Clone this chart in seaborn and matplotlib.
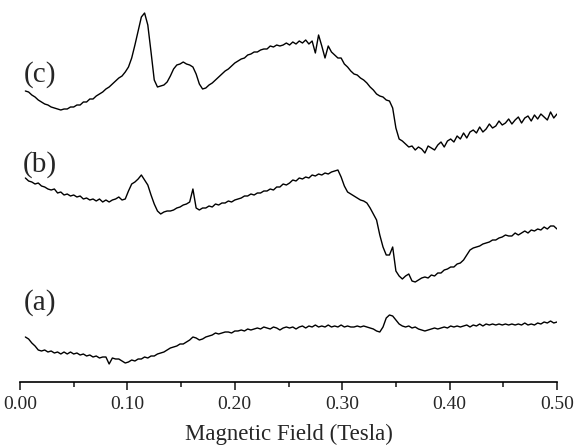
import matplotlib
matplotlib.use("Agg")
import matplotlib.pyplot as plt
from matplotlib.ticker import MultipleLocator, FormatStrFormatter
import seaborn as sns

# Magnetic field sweep (Tesla)
field = [
    0.005, 0.008, 0.011, 0.014, 0.017, 0.020, 0.023, 0.026, 0.029, 0.032,
    0.035, 0.038, 0.041, 0.044, 0.047, 0.050, 0.053, 0.056, 0.059, 0.062,
    0.065, 0.068, 0.071, 0.074, 0.077, 0.080, 0.083, 0.086, 0.089, 0.092,
    0.095, 0.098, 0.101, 0.104, 0.107, 0.110, 0.113, 0.116, 0.119, 0.122,
    0.125, 0.128, 0.131, 0.134, 0.137, 0.140, 0.143, 0.146, 0.149, 0.152,
    0.155, 0.158, 0.161, 0.164, 0.167, 0.170, 0.173, 0.176, 0.179, 0.182,
    0.185, 0.188, 0.191, 0.194, 0.197, 0.200, 0.203, 0.206, 0.209, 0.212,
    0.215, 0.218, 0.221, 0.224, 0.227, 0.230, 0.233, 0.236, 0.239, 0.242,
    0.245, 0.248, 0.251, 0.254, 0.257, 0.260, 0.263, 0.266, 0.269, 0.272,
    0.275, 0.278, 0.281, 0.284, 0.287, 0.290, 0.293, 0.296, 0.299, 0.302,
    0.305, 0.308, 0.311, 0.314, 0.317, 0.320, 0.323, 0.326, 0.329, 0.332,
    0.335, 0.338, 0.341, 0.344, 0.347, 0.350, 0.353, 0.356, 0.359, 0.362,
    0.365, 0.368, 0.371, 0.374, 0.377, 0.380, 0.383, 0.386, 0.389, 0.392,
    0.395, 0.398, 0.401, 0.404, 0.407, 0.410, 0.413, 0.416, 0.419, 0.422,
    0.425, 0.428, 0.431, 0.434, 0.437, 0.440, 0.443, 0.446, 0.449, 0.452,
    0.455, 0.458, 0.461, 0.464, 0.467, 0.470, 0.473, 0.476, 0.479, 0.482,
    0.485, 0.488, 0.491, 0.494, 0.497, 0.500,
]

# EPR signal (arbitrary units, traces offset vertically)
signal_c = [
    291, 290, 287, 285, 282, 280, 278, 277, 275, 274,
    273, 272, 273, 273, 275, 275, 277, 277, 280, 280,
    283, 283, 286, 288, 290, 293, 295, 298, 301, 304,
    306, 310, 315, 324, 337, 351, 365, 369, 357, 330,
    302, 295, 296, 297, 300, 306, 313, 317, 318, 320,
    318, 317, 315, 308, 298, 293, 294, 297, 299, 302,
    305, 308, 311, 313, 316, 319, 321, 323, 324, 327,
    328, 330, 330, 332, 333, 333, 336, 335, 337, 336,
    337, 339, 337, 340, 338, 341, 339, 342, 338, 341,
    329, 347, 336, 324, 336, 330, 327, 324, 324, 318,
    315, 311, 308, 307, 304, 302, 299, 295, 292, 288,
    286, 285, 282, 281, 274, 254, 243, 241, 238, 235,
    236, 232, 235, 233, 229, 236, 234, 232, 237, 240,
    235, 241, 243, 240, 246, 243, 249, 244, 250, 252,
    249, 255, 250, 253, 258, 254, 256, 261, 257, 259,
    263, 258, 262, 265, 259, 264, 266, 261, 267, 263,
    268, 265, 262, 270, 264, 268,
]

signal_b = [
    204, 201, 200, 198, 199, 196, 195, 193, 192, 193,
    189, 190, 187, 188, 186, 187, 185, 186, 183, 184,
    182, 183, 181, 183, 180, 182, 180, 182, 183, 185,
    182, 183, 191, 198, 200, 203, 207, 202, 197, 187,
    178, 171, 168, 170, 171, 171, 172, 174, 175, 177,
    178, 180, 193, 174, 172, 174, 174, 176, 175, 178,
    177, 179, 179, 181, 180, 182, 183, 184, 186, 186,
    188, 187, 189, 189, 191, 191, 193, 192, 195, 195,
    198, 197, 199, 202, 201, 204, 203, 205, 204, 207,
    206, 208, 207, 209, 208, 210, 211, 212, 205, 196,
    190, 188, 186, 184, 182, 181, 179, 174, 168, 162,
    147, 135, 127, 127, 135, 111, 106, 103, 106, 108,
    101, 100, 102, 104, 105, 104, 107, 106, 109, 109,
    112, 113, 115, 115, 118, 119, 122, 127, 132, 134,
    135, 136, 138, 139, 140, 142, 142, 144, 145, 147,
    146, 146, 149, 147, 149, 151, 149, 152, 151, 153,
    152, 155, 153, 156, 156, 153,
]

signal_a = [
    45, 43, 39, 36, 32, 31, 32, 30, 31, 29,
    30, 28, 30, 28, 30, 28, 29, 27, 28, 26,
    27, 25, 26, 24, 25, 25, 18, 24, 23, 23,
    21, 19, 20, 22, 21, 23, 23, 25, 24, 26,
    26, 28, 29, 30, 32, 34, 35, 36, 38, 38,
    40, 42, 45, 44, 42, 43, 45, 46, 47, 49,
    48, 49, 50, 50, 49, 51, 51, 52, 51, 53,
    52, 53, 54, 53, 55, 54, 53, 55, 54, 52,
    54, 55, 54, 55, 53, 55, 56, 54, 56, 55,
    57, 55, 56, 55, 57, 55, 56, 55, 57, 55,
    56, 55, 55, 56, 55, 56, 55, 54, 53, 51,
    50, 55, 64, 67, 66, 62, 58, 56, 55, 56,
    54, 55, 53, 52, 51, 52, 53, 54, 53, 54,
    55, 54, 56, 55, 56, 55, 56, 57, 55, 57,
    56, 58, 56, 58, 57, 58, 57, 58, 57, 58,
    57, 58, 57, 58, 57, 59, 57, 58, 57, 59,
    58, 60, 59, 61, 59, 60,
]

trace_labels = ["(a)", "(b)", "(c)"]
label_levels = [79, 217, 307]

sns.set_style("white")
plt.rcParams["font.family"] = ["Liberation Serif", "DejaVu Serif"]

fig = plt.figure(figsize=(5.79, 4.48), dpi=100)
ax = fig.add_axes([20 / 579, 1 - 382 / 448, 537 / 579, 382 / 448])

for sig in [signal_a, signal_b, signal_c]:
    sns.lineplot(x=field, y=sig, color="black", linewidth=1.0,
                 estimator=None, sort=False, ax=ax)

for lab, lev in zip(trace_labels, label_levels):
    ax.text(0.0186, lev, lab, ha="center", va="center", fontsize=21)

ax.set_xlim(0, 0.5)
ax.set_ylim(0, 382)
ax.xaxis.set_major_locator(MultipleLocator(0.1))
ax.xaxis.set_minor_locator(MultipleLocator(0.05))
ax.xaxis.set_major_formatter(FormatStrFormatter("%.2f"))
ax.tick_params(axis="x", which="major", direction="out", length=6, width=1.2,
               labelsize=14, pad=4, bottom=True)
ax.tick_params(axis="x", which="minor", direction="out", length=3.5, width=1.2,
               bottom=True)
ax.set_yticks([])
for side in ["left", "right", "top"]:
    ax.spines[side].set_visible(False)
ax.spines["bottom"].set_linewidth(1.2)
ax.spines["bottom"].set_color("black")
ax.set_xlabel("Magnetic Field (Tesla)", fontsize=16.5, labelpad=8)
ax.set_ylabel("")
ax.patch.set_alpha(0)

fig.savefig("out.png", dpi=100)
